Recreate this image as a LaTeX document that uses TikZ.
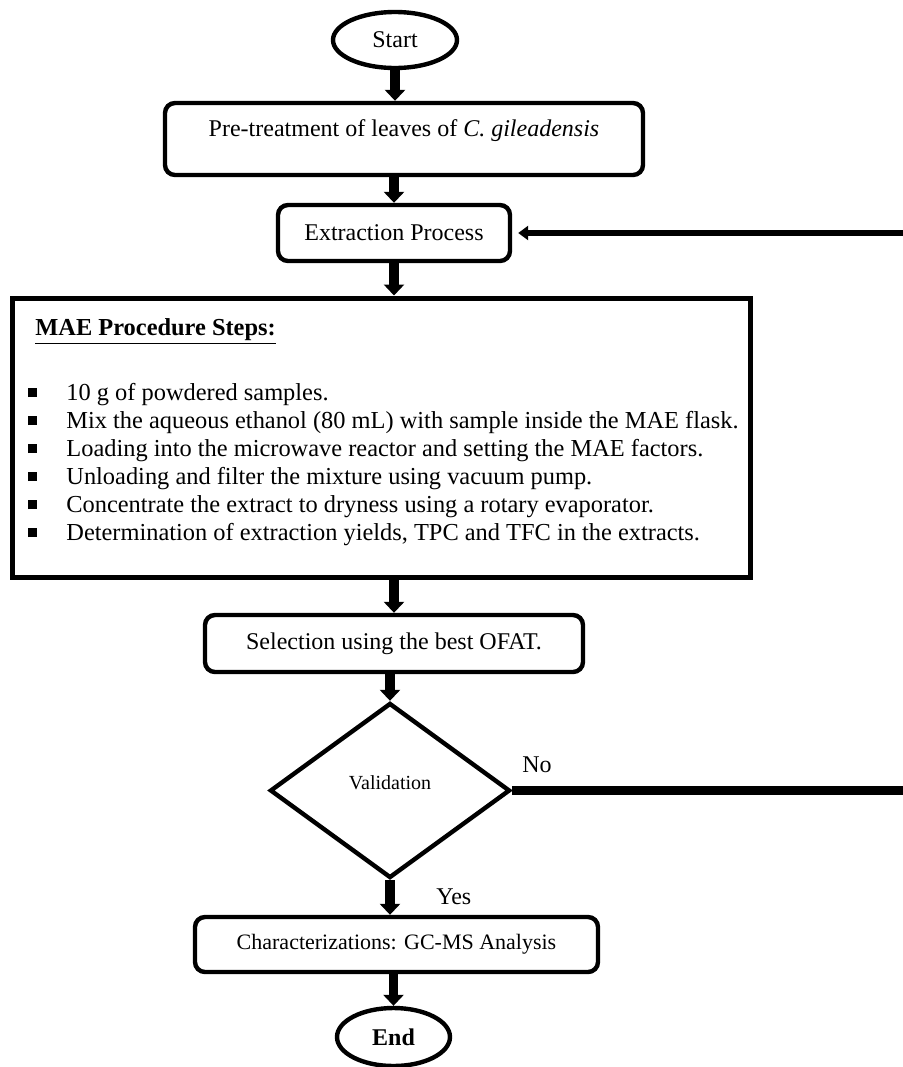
\documentclass[tikz,border=0pt]{standalone}
\usepackage{fontspec}
\setmainfont{Liberation Serif}
\usetikzlibrary{shapes.geometric,arrows.meta,calc}
\newcommand{\blt}{\makebox[19pt][l]{\rule[1.5pt]{4.5pt}{4.5pt}}}
\begin{document}
\begin{tikzpicture}[x=0.5pt,y=-0.5pt,
  every node/.style={font=\fontsize{12}{14}\selectfont},
  term/.style={ellipse,draw,line width=2.2pt,inner sep=0pt},
  procbox/.style={draw,line width=2.2pt,rounded corners=5pt,inner sep=0pt},
  flow/.style={line width=4.8pt,-{Triangle[width=10pt,length=5.5pt]}},
  bline/.style={anchor=base west,inner sep=0pt,font=\fontsize{12.2}{14}\selectfont},
  ]
\useasboundingbox (0,0) rectangle (903,1067);
\clip (0,0) rectangle (903,1067);

\node[term,minimum width=62pt,minimum height=28pt] (start) at (395,40) {Start};
\node[procbox,minimum width=239pt,minimum height=36pt,text depth=11pt] (pre) at (404,139) {Pre-treatment of leaves of \textit{C. gileadensis}};
\node[procbox,minimum width=116pt,minimum height=28pt] (ext) at (394,233) {Extraction Process};
\node[draw,line width=2.5pt,minimum width=369pt,minimum height=139.5pt,inner sep=0pt] (mae) at (381,437.5) {};
\node[bline] (head) at (35,335) {\textbf{\underline{MAE Procedure Steps:}}};
\node[bline] (b1) at (28,400) {\blt 10 g of powdered samples.};
\node[bline] (b2) at (28,428) {\blt Mix the aqueous ethanol (80 mL) with sample inside the MAE flask.};
\node[bline] (b3) at (28,456) {\blt Loading into the microwave reactor and setting the MAE factors.};
\node[bline] (b4) at (28,484) {\blt Unloading and filter the mixture using vacuum pump.};
\node[bline] (b5) at (28,512) {\blt Concentrate the extract to dryness using a rotary evaporator.};
\node[bline] (b6) at (28,540) {\blt Determination of extraction yields, TPC and TFC in the extracts.};
\node[procbox,minimum width=189pt,minimum height=28.5pt] (sel) at (394,643.5) {Selection using the best OFAT.};
\node[diamond,draw,line width=2.2pt,minimum width=120pt,minimum height=87.5pt,inner sep=0pt,text depth=8pt,font=\fontsize{10}{12}\selectfont] (val) at (390,790.5) {Validation};
\node[anchor=west,inner sep=0pt] (no) at (522,765) {No};
\node[anchor=west,inner sep=0pt] (yes) at (436,897) {Yes};
\node[procbox,minimum width=201.5pt,minimum height=27.5pt,font=\fontsize{11}{13}\selectfont] (char) at (396.5,944.5) {Characterizations: GC-MS Analysis};
\node[term,minimum width=56.5pt,minimum height=29pt,font=\fontsize{12}{14}\selectfont\bfseries] (end) at (393.5,1037) {End};

\draw[flow] (start.south) -- (start.south |- pre.north);
\draw[flow] (pre.south -| ext.north) -- (ext.north);
\draw[flow] (ext.south) -- (ext.south |- mae.north);
\draw[flow] (mae.south -| sel.north) -- (sel.north);
\draw[flow] (val.north |- sel.south) -- (val.north);
\draw[flow] (val.south) -- (val.south |- char.north);
\draw[flow] (char.south -| end.north) -- (end.north);

\coordinate (fbA) at (915,790.5);
\coordinate (fbB) at (915,233);
\draw[line width=4.5pt] (val.east) -- (fbA);
\draw[line width=3pt,-{Triangle[width=7pt,length=5pt]},shorten >=3pt] (fbA) -- (fbB) -- (ext.east);
\end{tikzpicture}
\end{document}
